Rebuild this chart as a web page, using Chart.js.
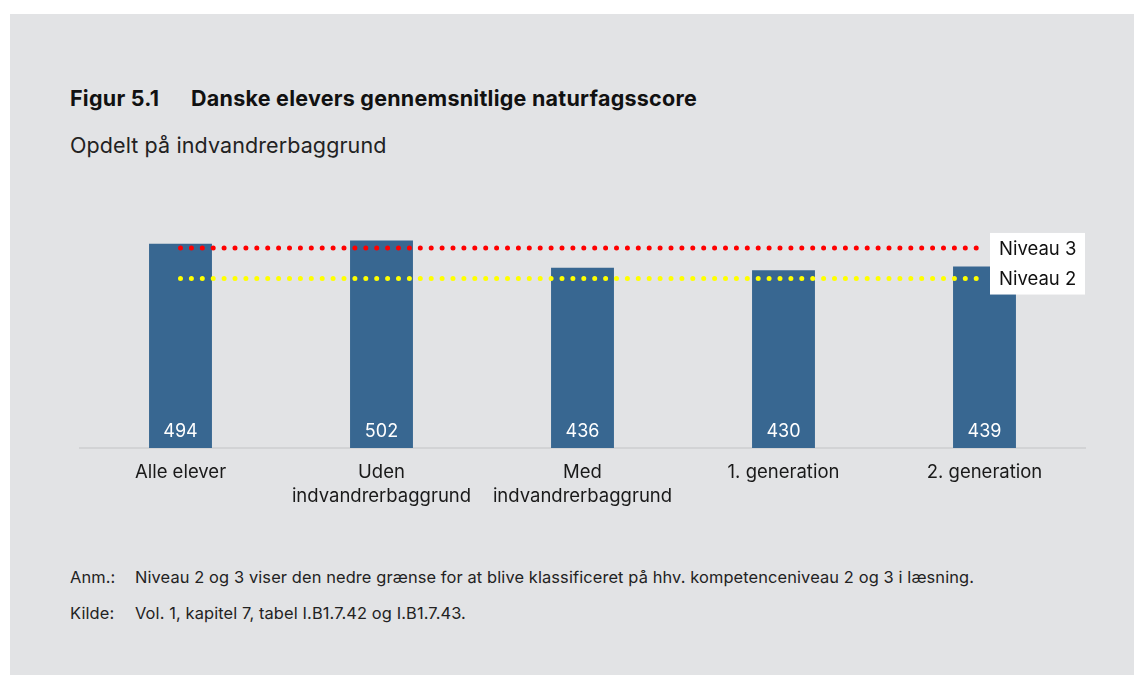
<!DOCTYPE html>
<html lang="da">
<head>
<meta charset="utf-8">
<script src="https://cdn.jsdelivr.net/npm/chart.js@4"></script>
<style>
  html, body { margin: 0; padding: 0; background: #ffffff; }
  body { width: 1134px; height: 675px; position: relative; overflow: hidden; font-family: Inter, 'Noto Sans', sans-serif; color: #111; }
  #panel { position: absolute; left: 10px; top: 14px; width: 1124px; height: 661px; background: #e2e3e5; }
  #chart { position: absolute; left: 0; top: 0; }
  .title { position: absolute; left: 70px; top: 85px; font-size: 21.5px; line-height: 26px; font-weight: 700; letter-spacing: 0.25px; white-space: nowrap; }
  .title span { display: inline-block; width: 121px; }
  .subtitle { position: absolute; left: 70px; top: 132px; font-size: 21.5px; line-height: 26px; letter-spacing: 0.1px; white-space: nowrap; color: #222; }
  .note { position: absolute; left: 70px; font-size: 16.4px; line-height: 20px; letter-spacing: 0.12px; white-space: nowrap; color: #222; }
  .note span { display: inline-block; width: 65px; }
</style>
</head>
<body>
<div id="panel"></div>
<div class="title"><span>Figur 5.1</span>Danske elevers gennemsnitlige naturfagsscore</div>
<div class="subtitle">Opdelt på indvandrerbaggrund</div>
<div class="note" style="top:567px"><span>Anm.:</span>Niveau 2 og 3 viser den nedre grænse for at blive klassificeret på hhv. kompetenceniveau 2 og 3 i læsning.</div>
<div class="note" style="top:603px"><span>Kilde:</span>Vol. 1, kapitel 7, tabel I.B1.7.42 og I.B1.7.43.</div>
<canvas id="chart" width="1134" height="675"></canvas>

<script>
// Data
const categories = [
  'Alle elever',
  ['Uden', 'indvandrerbaggrund'],
  ['Med', 'indvandrerbaggrund'],
  '1. generation',
  '2. generation',
];
const scores = [494, 502, 436, 430, 439];   // Average science score
const niveau3 = [484, 484, 484, 484, 484];  // Lower bound level 3
const niveau2 = [410, 410, 410, 410, 410];  // Lower bound level 2
const levelNames = ['Niveau 3', 'Niveau 2'];

const fontFamily = "Inter, 'Noto Sans', sans-serif";

// Writes the score inside the bottom of each bar
const valueLabels = {
  id: 'valueLabels',
  afterDatasetsDraw(chart) {
    const ctx = chart.ctx;
    const meta = chart.getDatasetMeta(0);
    const base = chart.scales.y.getPixelForValue(0);

    ctx.save();
    ctx.font = '18px ' + fontFamily;
    ctx.fillStyle = '#ffffff';
    ctx.textAlign = 'center';
    ctx.textBaseline = 'middle';
    meta.data.forEach((bar, i) => {
      ctx.fillText(String(scores[i]), bar.x, base - 16);
    });
    ctx.restore();
  },
};

// White box with the level names at the end of the dotted lines
const levelBox = {
  id: 'levelBox',
  afterDraw(chart) {
    const ctx = chart.ctx;
    const y = chart.scales.y;
    const y3 = y.getPixelForValue(niveau3[0]);
    const y2 = y.getPixelForValue(niveau2[0]);
    const left = chart.chartArea.right - 95;

    ctx.save();
    ctx.fillStyle = '#ffffff';
    ctx.fillRect(left, y3 - 15, 95, (y2 - y3) + 31);
    ctx.font = '18.5px ' + fontFamily;
    ctx.fillStyle = '#111111';
    ctx.textAlign = 'left';
    ctx.textBaseline = 'middle';
    ctx.fillText(levelNames[0], left + 9, y3 + 1);
    ctx.fillText(levelNames[1], left + 9, y2 + 1);
    ctx.restore();
  },
};

const dotted = (values, color) => ({
  type: 'line',
  data: values,
  borderColor: color,
  borderWidth: 5,
  borderDash: [0, 10.9],
  borderCapStyle: 'round',
  pointRadius: 0,
  fill: false,
  order: 0,
});

new Chart(document.getElementById('chart'), {
  type: 'bar',
  data: {
    labels: categories,
    datasets: [
      {
        data: scores,
        backgroundColor: '#386791',
        borderWidth: 0,
        categoryPercentage: 1,
        barPercentage: 0.313,
        order: 1,
      },
      dotted(niveau3, '#ff0000'),
      dotted(niveau2, '#ffff00'),
    ],
  },
  options: {
    responsive: false,
    animation: false,
    layout: { padding: { left: 80, right: 49, top: 200, bottom: 147 } },
    plugins: { legend: { display: false }, tooltip: { enabled: false } },
    scales: {
      x: {
        grid: { display: false },
        border: { color: '#d2d3d5', width: 2 },
        ticks: {
          color: '#1a1a1a',
          font: { family: fontFamily, size: 18.5, lineHeight: 1.27 },
          padding: 5,
          maxRotation: 0,
        },
        afterFit(scale) { scale.height = 80; },
      },
      y: {
        display: false,
        min: 0,
        max: 600,
      },
    },
  },
  plugins: [valueLabels, levelBox],
});
</script>
</body>
</html>
